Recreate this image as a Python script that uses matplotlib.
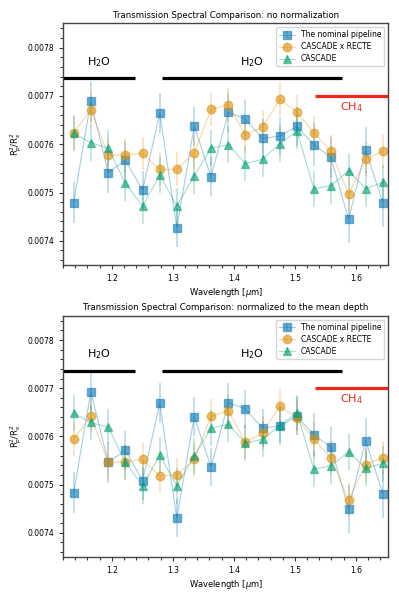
import numpy as np
import matplotlib
matplotlib.use("Agg")
import matplotlib.pyplot as plt
from matplotlib.colors import to_rgb
from matplotlib.ticker import MultipleLocator

wave = [1.1375, 1.1655, 1.1940, 1.2220, 1.2505, 1.2785, 1.3065, 1.3350, 1.3625, 1.3910,
        1.4190, 1.4470, 1.4755, 1.5035, 1.5310, 1.5590, 1.5880, 1.6160, 1.6445]

# no normalization
nominal_raw = [0.007479, 0.007689, 0.007541, 0.007567, 0.007505, 0.007665, 0.007427, 0.007637, 0.007533, 0.007666,
               0.007652, 0.007612, 0.007617, 0.007637, 0.007599, 0.007573, 0.007445, 0.007588, 0.007478]
recte_raw = [0.007624, 0.007671, 0.007577, 0.007578, 0.007581, 0.007548, 0.007548, 0.007582, 0.007672, 0.007682,
             0.007619, 0.007636, 0.007693, 0.007666, 0.007624, 0.007585, 0.007497, 0.007569, 0.007586]
cascade_raw = [0.007623, 0.007603, 0.007592, 0.007519, 0.007472, 0.007536, 0.007472, 0.007534, 0.007592, 0.007599,
               0.007560, 0.007569, 0.007601, 0.007627, 0.007508, 0.007514, 0.007545, 0.007508, 0.007521]

# normalized to the mean depth
nominal_norm = [0.007483, 0.007693, 0.007546, 0.007571, 0.007508, 0.007669, 0.007430, 0.007641, 0.007536, 0.007670,
                0.007657, 0.007617, 0.007622, 0.007642, 0.007603, 0.007578, 0.007449, 0.007591, 0.007480]
recte_norm = [0.007594, 0.007642, 0.007546, 0.007547, 0.007552, 0.007518, 0.007520, 0.007552, 0.007642, 0.007653,
              0.007588, 0.007607, 0.007663, 0.007638, 0.007594, 0.007555, 0.007468, 0.007541, 0.007556]
cascade_norm = [0.007648, 0.007629, 0.007619, 0.007546, 0.007497, 0.007561, 0.007497, 0.007559, 0.007617, 0.007625,
                0.007586, 0.007594, 0.007623, 0.007649, 0.007532, 0.007539, 0.007568, 0.007534, 0.007544]

nominal_err = [0.000043, 0.000043, 0.000042, 0.000040, 0.000040, 0.000042, 0.000040, 0.000040, 0.000040, 0.000040,
               0.000040, 0.000040, 0.000040, 0.000040, 0.000045, 0.000042, 0.000050, 0.000048, 0.000050]
recte_err = [0.000035] * 19
cascade_err = [0.000037] * 19

titles = ["Transmission Spectral Comparison: no normalization",
          "Transmission Spectral Comparison: normalized to the mean depth"]
labels = ["The nominal pipeline", "CASCADE x RECTE", "CASCADE"]
colors = ["#0173b2", "#de8f05", "#029e73"]
markers = ["s", "o", "^"]

panels = [(nominal_raw, recte_raw, cascade_raw), (nominal_norm, recte_norm, cascade_norm)]
errs = (nominal_err, recte_err, cascade_err)

fig = plt.figure(figsize=(3.99, 5.98), dpi=100)
boxes = [[0.158, 0.557, 0.815, 0.404], [0.158, 0.069, 0.815, 0.403]]

for box, title, series in zip(boxes, titles, panels):
    ax = fig.add_axes(box)
    for vals, err, c, m, lab in zip(series, errs, colors, markers, labels):
        r, g, b = to_rgb(c)
        ax.errorbar(wave, vals, yerr=err, fmt=m + "-", color=(r, g, b, 0.35),
                    mfc=(r, g, b, 0.6), mec=(r, g, b, 0.5), ecolor=(r, g, b, 0.3),
                    ms=6.2, lw=0.8, elinewidth=1.1, label=lab)
    # absorption band markers
    ax.plot([1.12, 1.2377], [0.0077366, 0.0077366], color="k", lw=2.3, solid_capstyle="butt")
    ax.plot([1.283, 1.5765], [0.0077366, 0.0077366], color="k", lw=2.3, solid_capstyle="butt")
    ax.plot([1.5328, 1.66], [0.0076995, 0.0076995], color="#f0261b", lw=2.3, solid_capstyle="butt")
    ax.text(1.179, 0.00777, "H$_2$O", fontsize=8, ha="center", va="center")
    ax.text(1.43, 0.00777, "H$_2$O", fontsize=8, ha="center", va="center")
    ax.text(1.593, 0.007677, "CH$_4$", fontsize=8, color="#f0261b", ha="center", va="center")

    ax.set_xlim(1.12, 1.653)
    ax.set_ylim(0.00735, 0.0078505)
    ax.xaxis.set_major_locator(MultipleLocator(0.1))
    ax.xaxis.set_minor_locator(MultipleLocator(0.02))
    ax.yaxis.set_major_locator(MultipleLocator(0.0001))
    ax.yaxis.set_minor_locator(MultipleLocator(0.00002))
    ax.tick_params(labelsize=5.5, length=3, width=0.8, color="#333333")
    ax.tick_params(which="minor", length=2, width=0.8, color="#333333")
    for sp in ax.spines.values():
        sp.set_color("#444444")
        sp.set_linewidth(1.0)
    ax.set_title(title, fontsize=6.2, pad=4)
    ax.set_xlabel("Wavelength [$\\mu$m]", fontsize=6, labelpad=2)
    ax.set_ylabel("R$_p^2$/R$_s^2$", fontsize=6, labelpad=2)
    ax.legend(loc="upper right", fontsize=5.5, borderpad=0.4, handlelength=2.0, labelspacing=0.4)

fig.savefig("out.png", dpi=100)
